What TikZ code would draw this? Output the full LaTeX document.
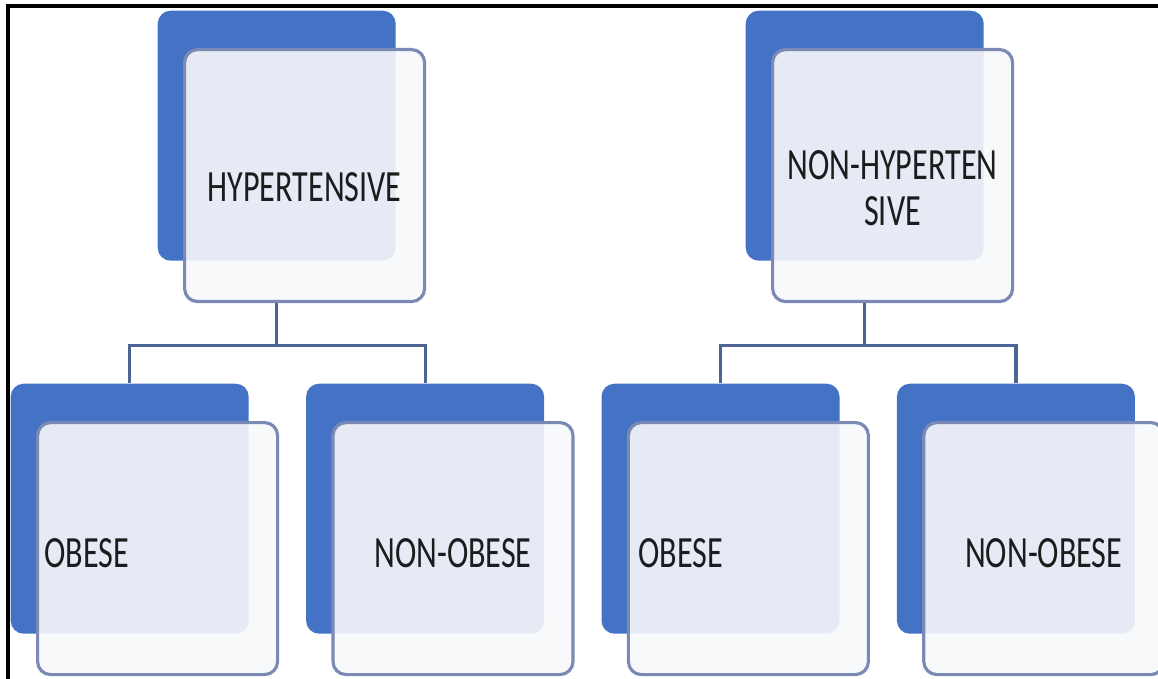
\documentclass[tikz,border=0pt]{standalone}
\usepackage{fontspec}
\setmainfont{Carlito}
\usetikzlibrary{positioning}
\definecolor{backblue}{HTML}{4472C4}
\definecolor{frontfill}{HTML}{F7F8FB}
\definecolor{frontline}{HTML}{7A8AB4}
\definecolor{linkblue}{HTML}{4B6494}
\definecolor{textgray}{HTML}{1C1C1C}
\newcommand{\squeeze}[1]{\scalebox{0.72}[1]{#1}}

\begin{document}
\begin{tikzpicture}[
    backbox/.style={rectangle,rounded corners=1.3mm,fill=backblue,inner sep=0pt,minimum width=2.38cm,minimum height=2.5cm,anchor=north west},
    frontbox/.style={rectangle,rounded corners=1.3mm,draw=frontline,line width=0.9pt,fill=frontfill,fill opacity=0.9,inner sep=0pt,minimum width=2.4cm,minimum height=2.52cm,anchor=north west,xshift=2.6mm,yshift=-3.8mm},
    boxtext/.style={inner sep=0pt,text=textgray,font=\fontsize{12.7}{13.1}\selectfont,align=center},
    link/.style={draw=linkblue,line width=0.9pt}
    ]

    \useasboundingbox (0,0) rectangle (11.58,-6.79);
    \draw[line width=0.9pt] (0.08,-6.79) -- (0.08,-0.06) -- (11.58,-0.06);

    % top row
    \node(hyp_back) [backbox] at (1.57,-0.10) {};
    \node(hyp) [frontbox] at (hyp_back.north west) {};
    \node(hyp_title) [boxtext,yshift=-1.2mm] at (hyp.center) {\squeeze{HYPERTENSIVE}};

    \node(nhyp_back) [backbox] at (7.45,-0.10) {};
    \node(nhyp) [frontbox] at (nhyp_back.north west) {};
    \node(nhyp_title) [boxtext,yshift=-1.3mm] at (nhyp.center) {\squeeze{NON-HYPERTEN}\\\squeeze{SIVE}};

    % bottom row
    \node(ob1_back) [backbox] at (0.10,-3.83) {};
    \node(nob1_back) [backbox,right=5.6mm of ob1_back] {};
    \node(ob2_back) [backbox,right=5.6mm of nob1_back] {};
    \node(nob2_back) [backbox,right=5.6mm of ob2_back] {};

    \node(ob1) [frontbox] at (ob1_back.north west) {};
    \node(ob1_title) [boxtext,anchor=west,xshift=0.8mm,yshift=-0.5mm] at (ob1.west) {\squeeze{OBESE}};

    \node(nob1) [frontbox] at (nob1_back.north west) {};
    \node(nob1_title) [boxtext,yshift=-0.5mm] at (nob1.center) {\squeeze{NON-OBESE}};

    \node(ob2) [frontbox] at (ob2_back.north west) {};
    \node(ob2_title) [boxtext,anchor=west,xshift=1.1mm,yshift=-0.5mm] at (ob2.west) {\squeeze{OBESE}};

    \node(nob2) [frontbox] at (nob2_back.north west) {};
    \node(nob2_title) [boxtext,yshift=-0.5mm] at (nob2.center) {\squeeze{NON-OBESE}};

    % connectors
    \draw[link] (hyp_back.south |- hyp.south) -- ++(0,-0.42) -| (ob1_back.north);
    \draw[link] (hyp_back.south |- hyp.south) -- ++(0,-0.42) -| (nob1_back.north);
    \draw[link] (nhyp_back.south |- nhyp.south) -- ++(0,-0.42) -| (ob2_back.north);
    \draw[link] (nhyp_back.south |- nhyp.south) -- ++(0,-0.42) -| (nob2_back.north);

  \end{tikzpicture}
\end{document}
